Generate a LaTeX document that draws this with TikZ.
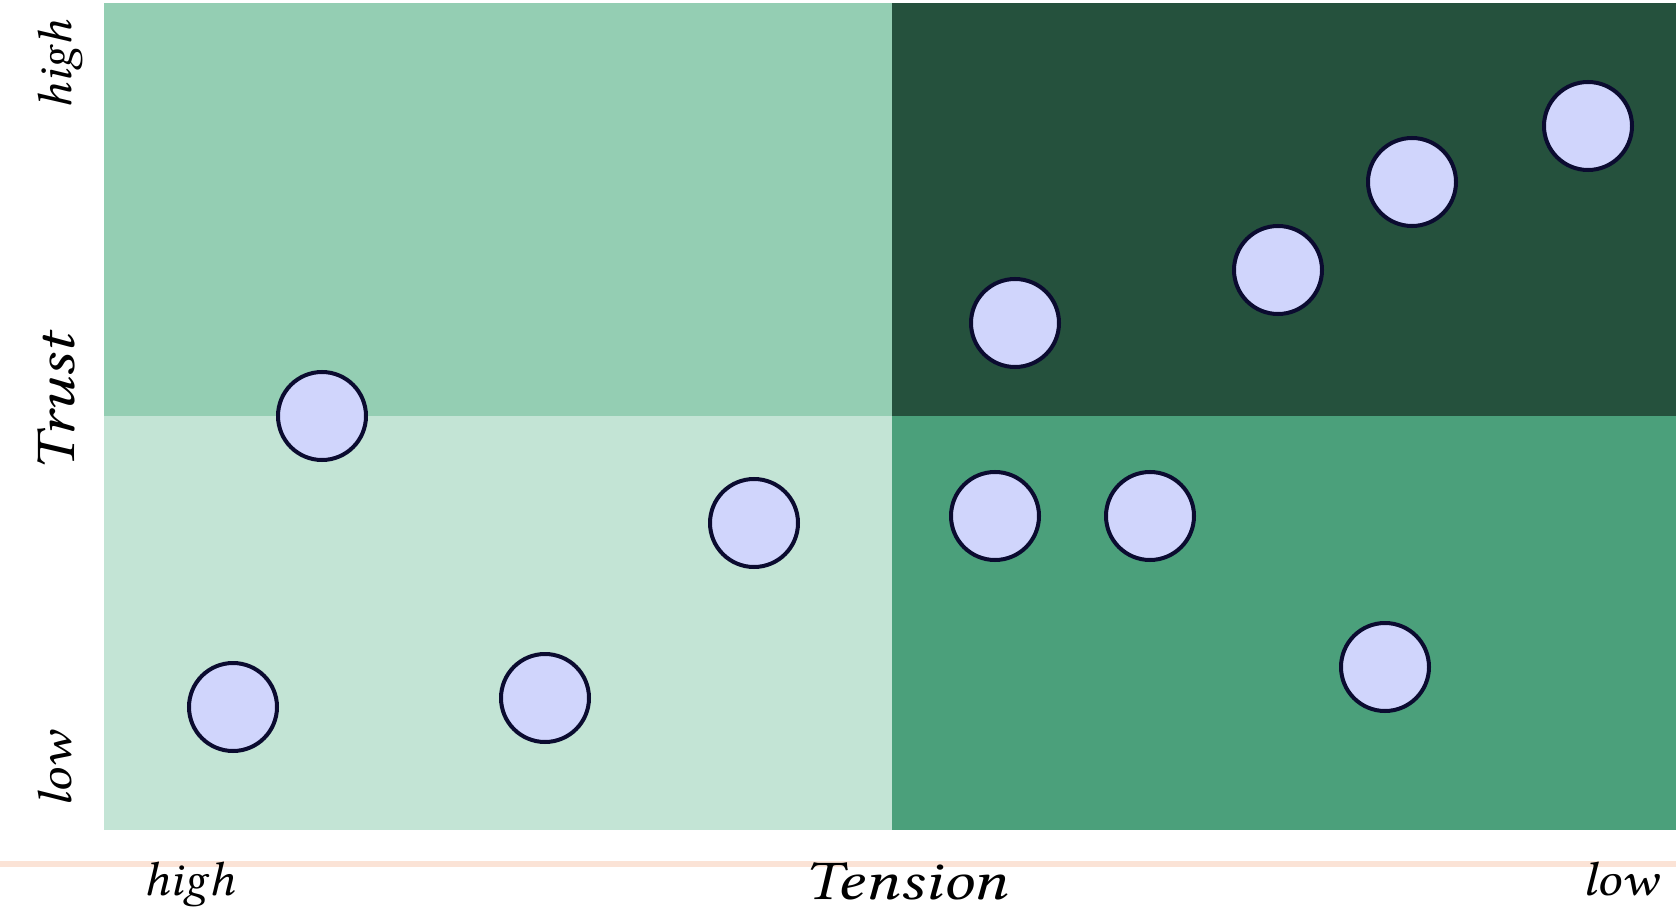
\documentclass[tikz,border=0pt]{standalone}
\usepackage{fontspec}
\setmainfont{Libertinus Serif}
\begin{document}
\begin{tikzpicture}[x=0.5pt,y=-0.5pt,
  dot/.style={circle,draw=dotline,line width=2pt,fill=dotfill,minimum size=44pt,inner sep=0pt},
  lbl/.style={font=\itshape\fontsize{24}{27}\selectfont,anchor=base,inner sep=0pt},
  axlbl/.style={font=\itshape\fontsize{28}{32}\selectfont,anchor=base,inner sep=0pt}]
\definecolor{qtl}{HTML}{94CEB3}
\definecolor{qbl}{HTML}{C3E4D5}
\definecolor{qtr}{HTML}{25513D}
\definecolor{qbr}{HTML}{4BA07B}
\definecolor{dotfill}{HTML}{D0D5FC}
\definecolor{dotline}{HTML}{0B0B30}
\definecolor{peach}{HTML}{FBE3D6}
\useasboundingbox (0,0) rectangle (1676,909);
\fill[white] (0,0) rectangle (1676,909);
\fill[qtl] (104,3) rectangle (892,416);
\fill[qbl] (104,416) rectangle (892,830);
\fill[qtr] (892,3) rectangle (1676,416);
\fill[qbr] (892,416) rectangle (1676,830);
\fill[peach] (0,861) rectangle (1676,867);
\node[dot] (c1) at (322,416) {};
\node[dot] (c2) at (754,523) {};
\node[dot] (c3) at (233,707) {};
\node[dot] (c4) at (545,698) {};
\node[dot] (c5) at (1015,323) {};
\node[dot] (c6) at (1278,270) {};
\node[dot] (c7) at (1412,182) {};
\node[dot] (c8) at (1588,126) {};
\node[dot] (c9) at (995,516) {};
\node[dot] (c10) at (1150,516) {};
\node[dot] (c11) at (1385,667) {};
\node[axlbl] (tension) at (906,899) {\scalebox{1.22}[1]{Tension}};
\node[lbl] (xhigh) at (189,895) {\scalebox{1.06}[1]{high}};
\node[lbl] (xlow) at (1620,895) {\scalebox{1.13}[1]{low}};
\node[axlbl,rotate=90] (trust) at (74,403) {\scalebox{1.2}[1]{Trust}};
\node[lbl,rotate=90] (yhigh) at (71,65) {\scalebox{1.04}[1]{high}};
\node[lbl,rotate=90] (ylow) at (71,770) {\scalebox{1.12}[1]{low}};
\end{tikzpicture}
\end{document}
